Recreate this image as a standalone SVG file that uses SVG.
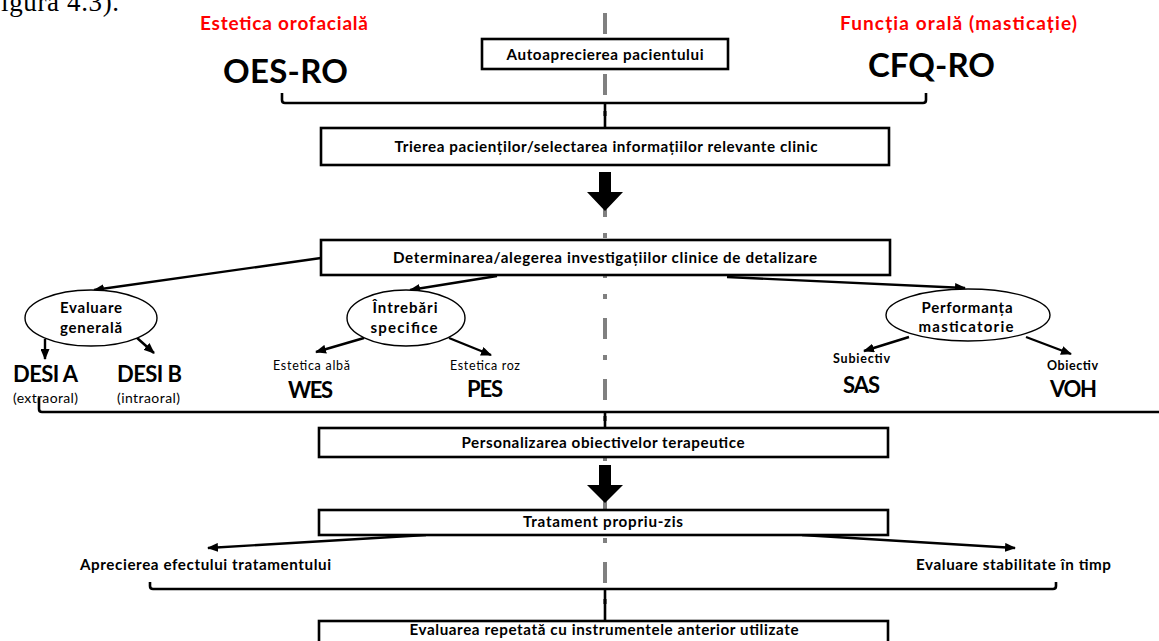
<svg xmlns="http://www.w3.org/2000/svg" width="1159" height="641" viewBox="0 0 1159 641">
<style>
.t{font-family:Lato,"Liberation Sans",Arial,sans-serif;font-weight:bold;fill:#000}
.m{text-anchor:middle}
.red{fill:#ff0000}
.box{fill:#fff;stroke:#000;stroke-width:2.6}
.ell{fill:#fff;stroke:#000;stroke-width:1.4}
.con{fill:none;stroke:#000;stroke-width:2.4}
.br{fill:none;stroke:#000;stroke-width:2.6}
.blk{fill:#000}
.bx{font-size:15.2px}
.el{font-size:15px}
.sm{font-size:12.5px}
.big{font-size:22px}
</style>
<defs>
<marker id="ah" markerUnits="userSpaceOnUse" markerWidth="11" markerHeight="9" refX="10" refY="4.5" orient="auto">
<path d="M0,0 L11,4.5 L0,9 z" fill="#000"/>
</marker>
</defs>
<rect width="1159" height="641" fill="#fff"/>
<text x="1" y="11" style="font-family:'Liberation Serif',serif;font-size:27px" textLength="118">igura 4.3).</text>
<line id="axis" x1="605" y1="13" x2="605" y2="641" stroke="#808080" stroke-width="4" stroke-dasharray="21 16 5 19"/>
<g id="brackets">
<path class="br" d="M282,93 V100 Q282,103 285,103 H923 Q926,103 926,100 V93 M605,103 V128"/>
<path class="br" d="M39,398 V409 Q39,412 42,412 H1159 M605,412 V428"/>
<path class="br" d="M150,582 V586 Q150,589 153,589 H1053 Q1056,589 1056,586 V582 M605,589 V621"/>
</g>
<g id="titles">
<text class="t red" x="200" y="30" style="font-size:19px" textLength="168">Estetica orofacială</text>
<text class="t" x="223" y="83" style="font-size:33px" textLength="125">OES-RO</text>
<text class="t red" x="840" y="30" style="font-size:19px" textLength="237">Funcția orală (masticație)</text>
<text class="t" x="868" y="77" style="font-size:33px" textLength="127">CFQ-RO</text>
</g>
<g id="n1"><rect class="box" x="482" y="39" width="246" height="30"/><text class="t m bx" x="605" y="60" textLength="197">Autoaprecierea pacientului</text></g>
<g id="n2"><rect class="box" x="321" y="128" width="568" height="37"/><text class="t m bx" x="606" y="152" textLength="423">Trierea pacienților/selectarea informațiilor relevante clinic</text></g>
<g id="blockarrow1"><polygon class="blk" points="599,172 611,172 611,192 623,192 605,211 587,192 599,192"/></g>
<g id="n3"><rect class="box" x="321" y="240" width="569" height="35"/><text class="t m bx" x="605" y="263" textLength="424">Determinarea/alegerea investigațiilor clinice de detalizare</text></g>
<g id="connectors">
<line class="con" x1="321" y1="258" x2="94" y2="290" marker-end="url(#ah)"/>
<line class="con" x1="497" y1="276" x2="410" y2="290" marker-end="url(#ah)"/>
<line class="con" x1="727" y1="277" x2="965" y2="288" marker-end="url(#ah)"/>
<line class="con" x1="45" y1="339" x2="45" y2="359" marker-end="url(#ah)"/>
<line class="con" x1="136" y1="337" x2="154" y2="353" marker-end="url(#ah)"/>
<line class="con" x1="364" y1="338" x2="316" y2="352" marker-end="url(#ah)"/>
<line class="con" x1="449" y1="338" x2="491" y2="355" marker-end="url(#ah)"/>
<line class="con" x1="909" y1="337" x2="864" y2="351" marker-end="url(#ah)"/>
<line class="con" x1="1026" y1="337" x2="1071" y2="354" marker-end="url(#ah)"/>
<line class="con" x1="426" y1="535" x2="208" y2="548" marker-end="url(#ah)"/>
<line class="con" x1="802" y1="535" x2="1015" y2="548" marker-end="url(#ah)"/>
</g>
<g id="e1"><ellipse class="ell" cx="91" cy="318" rx="66" ry="28"/><text class="t m el" x="91" y="313" textLength="62">Evaluare</text><text class="t m el" x="91" y="333" textLength="62">generală</text></g>
<g id="e2"><ellipse class="ell" cx="406" cy="318" rx="59" ry="28"/><text class="t m el" x="405" y="313" textLength="65">Întrebări</text><text class="t m el" x="404" y="333" textLength="67">specifice</text></g>
<g id="e3"><ellipse class="ell" cx="968" cy="315" rx="82" ry="26"/><text class="t m el" x="967" y="313" textLength="91">Performanța</text><text class="t m el" x="966" y="332" textLength="95">masticatorie</text></g>
<g id="leaves">
<text class="t big" x="13" y="382" textLength="65">DESI A</text>
<text class="t" x="13" y="403" style="font-size:14px;font-weight:normal" textLength="65">(extraoral)</text>
<text class="t big" x="117" y="382" textLength="65">DESI B</text>
<text class="t" x="117" y="403" style="font-size:14px;font-weight:normal" textLength="63">(intraoral)</text>
<text class="t sm" x="273" y="370" style="font-weight:normal" textLength="77">Estetica albă</text>
<text class="t big" x="288" y="398" textLength="45">WES</text>
<text class="t sm" x="450" y="370" style="font-weight:normal" textLength="70">Estetica roz</text>
<text class="t big" x="467" y="397" textLength="36">PES</text>
<text class="t sm" x="833" y="363" textLength="57">Subiectiv</text>
<text class="t big" x="843" y="393" textLength="37">SAS</text>
<text class="t sm" x="1047" y="370" textLength="51">Obiectiv</text>
<text class="t big" x="1050" y="397" textLength="47">VOH</text>
</g>
<g id="n4"><rect class="box" x="319" y="428" width="569" height="29"/><text class="t m bx" x="603" y="448" textLength="283">Personalizarea obiectivelor terapeutice</text></g>
<g id="blockarrow2"><polygon class="blk" points="599,465 611,465 611,485 623,485 605,503 587,485 599,485"/></g>
<g id="n5"><rect class="box" x="319" y="510" width="569" height="25"/><text class="t m bx" x="603" y="527" textLength="160">Tratament propriu-zis</text></g>
<g id="o1"><text class="t bx" x="80" y="570" textLength="251">Aprecierea efectului tratamentului</text></g>
<g id="o2"><text class="t bx" x="916" y="570" textLength="195">Evaluare stabilitate în timp</text></g>
<g id="n6"><rect class="box" x="319" y="621" width="569" height="32"/><text class="t m bx" x="604" y="635" textLength="389">Evaluarea repetată cu instrumentele anterior utilizate</text></g>
</svg>
